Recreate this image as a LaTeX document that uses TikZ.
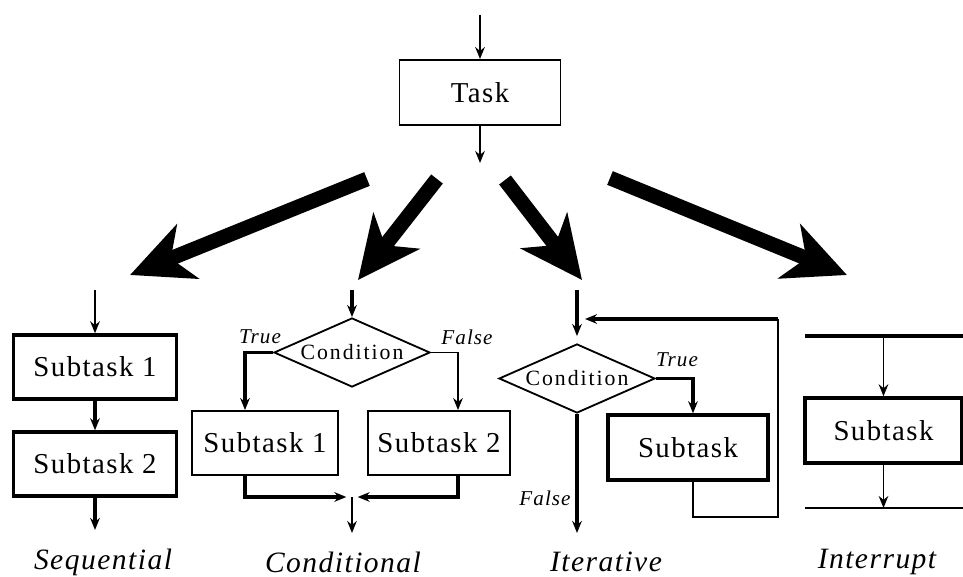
\documentclass[tikz,border=0pt]{standalone}
\usepackage{fontspec}
\setmainfont{Liberation Serif}
\newfontfamily\spacedserif[LetterSpace=5]{Liberation Serif}
\usetikzlibrary{arrows.meta,shapes.geometric}

\tikzset{
  box/.style={draw, line width=1.3pt, inner sep=0pt, font=\spacedserif\fontsize{20.5}{24}\selectfont},
  thickbox/.style={box, line width=2.4pt},
  cond/.style={draw, diamond, line width=1.3pt, inner sep=0pt, aspect=2.26,
    minimum width=3.9cm, minimum height=1.725cm,
    font=\spacedserif\addfontfeatures{LetterSpace=9}\fontsize{15.5}{18}\selectfont},
  flow/.style={line width=1.3pt, -{Stealth[length=0.3cm,width=0.24cm]}},
  thickflow/.style={flow, line width=2.4pt},
  fat/.style={line width=10.5pt, -{Stealth[length=1.55cm,width=1.45cm,inset=0.45cm]}},
  branch/.style={font=\spacedserif\fontsize{15}{18}\selectfont\itshape},
  title/.style={font=\spacedserif\fontsize{21}{25}\selectfont\itshape}
}

\begin{document}
\begin{tikzpicture}[x=0.025cm,y=-0.025cm]
  \useasboundingbox (0,0) rectangle (963,577);

  %%% top task
  \coordinate (t0) at (480,15);
  \node[box, minimum width=4.025cm, minimum height=1.625cm] (task) at (480,92.5) {Task};
  \coordinate (t1) at (480,163);
  \draw[flow] (t0) -- (task);
  \draw[flow] (task) -- (t1);

  %%% fat arrows to the four kinds
  \coordinate (f1a) at (367,179); \coordinate (f1b) at (130,275);
  \coordinate (f2a) at (437,179); \coordinate (f2b) at (358,280);
  \coordinate (f3a) at (505,180); \coordinate (f3b) at (582,280);
  \coordinate (f4a) at (610,178); \coordinate (f4b) at (847,275);
  \draw[fat] (f1a) -- (f1b);
  \draw[fat] (f2a) -- (f2b);
  \draw[fat] (f3a) -- (f3b);
  \draw[fat] (f4a) -- (f4b);

  %%% sequential
  \coordinate (s0) at (95,290);
  \node[thickbox, minimum width=4.075cm, minimum height=1.6cm] (seq1) at (95,367) {Subtask 1};
  \node[thickbox, minimum width=4.075cm, minimum height=1.6cm] (seq2) at (95,464) {Subtask 2};
  \coordinate (s3) at (95,530);
  \draw[flow] (s0) -- (seq1);
  \draw[thickflow] (seq1) -- (seq2);
  \draw[thickflow] (seq2) -- (s3);
  \node[title] (seqtitle) at (103,562) {Sequential};

  %%% conditional
  \coordinate (c0) at (352,290);
  \node[cond] (cif) at (352,352.5) {Condition};
  \node[box, minimum width=3.65cm, minimum height=1.6cm] (csub1) at (265,443) {Subtask 1};
  \node[box, minimum width=3.55cm, minimum height=1.6cm] (csub2) at (439,443) {Subtask 2};
  \coordinate (cl) at (245,352.5); \coordinate (cr) at (458,352.5);
  \coordinate (cl2) at (245,497); \coordinate (cr2) at (458,497);
  \coordinate (cm) at (352,497); \coordinate (cend) at (352,533);
  \draw[thickflow] (c0) -- (cif);
  \draw[thickflow] (cif.west) -- (cl) -- (cl |- csub1.north);
  \draw[flow] (cif.east) -- (cr) -- (cr |- csub2.north);
  \draw[thickflow] (cl |- csub1.south) -- (cl2) -- ([xshift=-4pt]cm);
  \draw[thickflow] (cr |- csub2.south) -- (cr2) -- ([xshift=4pt]cm);
  \draw[flow] (cm) -- (cend);
  \node[branch] (ctrue) at (260,337) {True};
  \node[branch] (cfalse) at (467,337) {False};
  \node[title] (condtitle) at (343,562) {Conditional};

  %%% iterative
  \coordinate (i0) at (577,290);
  \node[cond] (iif) at (577,378.5) {Condition};
  \node[thickbox, minimum width=4cm, minimum height=1.625cm] (isub) at (688,447.5) {Subtask};
  \coordinate (ir) at (693,378.5);
  \coordinate (ib) at (693,517); \coordinate (ic) at (778,517);
  \coordinate (id) at (778,319); \coordinate (ie) at (585,319);
  \coordinate (iend) at (577,533);
  \draw[thickflow] (i0) -- ([yshift=5pt]iif.north);
  \draw[thickflow] (iif.east) -- (ir) -- (ir |- isub.north);
  \draw[line width=1.3pt] (ir |- isub.south) -- (ib) -- (ic) -- (id);
  \draw[thickflow] (id) -- (ie);
  \draw[thickflow] (iif.south) -- (iend);
  \node[branch] (itrue) at (677,360) {True};
  \node[branch] (ifalse) at (545,498) {False};
  \node[title] (itertitle) at (606,562) {Iterative};

  %%% interrupt
  \coordinate (u0) at (805,336); \coordinate (u1) at (963,336);
  \coordinate (u2) at (805,508); \coordinate (u3) at (963,508);
  \draw[line width=2.4pt] (u0) -- (u1);
  \draw[line width=1.3pt] (u2) -- (u3);
  \node[thickbox, minimum width=3.925cm, minimum height=1.625cm] (usub) at (883.5,430.5) {Subtask};
  \draw[flow] (usub.north |- u0) -- (usub.north);
  \draw[flow] (usub.south) -- (usub.south |- u2);
  \node[title] (inttitle) at (877,562) {Interrupt};
\end{tikzpicture}
\end{document}
